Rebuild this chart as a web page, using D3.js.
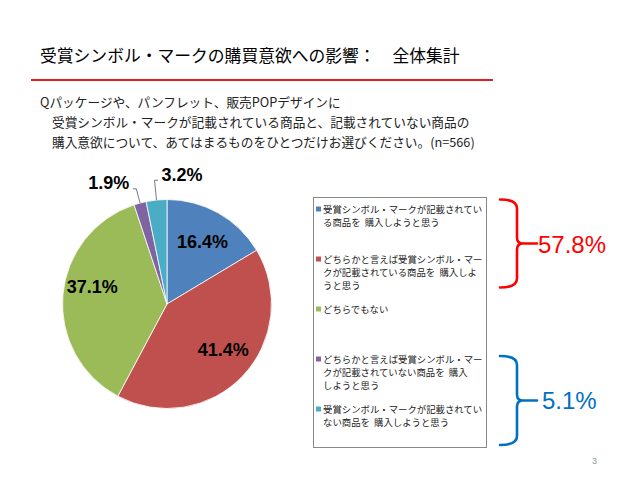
<!DOCTYPE html>
<html><head><meta charset="utf-8">
<script src="https://cdn.jsdelivr.net/npm/d3@7"></script>
<style>
html,body{margin:0;padding:0;background:#fff;}
svg{display:block;}
</style></head>
<body>
<svg id="c" width="640" height="480"></svg>
<script>
// ---- data ----
const title = "受賞シンボル・マークの購買意欲への影響：　全体集計";
const questionLines = [
  "Qパッケージや、パンフレット、販売POPデザインに",
  "受賞シンボル・マークが記載されている商品と、記載されていない商品の",
  "購入意欲について、あてはまるものをひとつだけお選びください。(n=566)"
];
const categories = [
  "受賞シンボル・マークが記載されてい\nる商品を\u00a0\u00a0購入しようと思う",
  "どちらかと言えば受賞シンボル・マー\nクが記載されている商品を\u00a0\u00a0購入しよ\nうと思う",
  "どちらでもない",
  "どちらかと言えば受賞シンボル・マー\nクが記載されていない商品を\u00a0\u00a0購入\nしようと思う",
  "受賞シンボル・マークが記載されてい\nない商品を\u00a0\u00a0購入しようと思う"
];
const values = [16.4, 41.4, 37.1, 1.9, 3.2];
const groupLabels = ["57.8%", "5.1%"];
const pageNumber = "3";

// ---- style ----
const colors = ["#4F81BD", "#C0504D", "#9BBB59", "#8064A2", "#4BACC6"];
const jp = "'Noto Sans CJK JP','Noto Sans',sans-serif";
const lat = "'Liberation Sans',Arial,sans-serif";
const innerNudge = [[0,0],[4,-4],[-3,-11],[0,0],[0,0]];
const elbowK = [0,0,0,1.14,1.19];

const svg = d3.select("#c");

// title
svg.append("text").attr("x", 40).attr("y", 62)
  .attr("font-family", jp).attr("font-size", 16.8).attr("fill", "#000").text(title);
svg.append("line").attr("x1", 31).attr("x2", 493).attr("y1", 80).attr("y2", 80)
  .attr("stroke", "#E41E1E").attr("stroke-width", 2);

// question
questionLines.forEach((t, i) => {
  svg.append("text").attr("x", i === 0 ? 40 : 52).attr("y", 107 + i * 20)
    .attr("font-family", jp).attr("font-size", 12.7).attr("fill", "#222").text(t);
});

// pie
const cx = 167, cy = 304, r = 104.5;
const g = svg.append("g").attr("transform", `translate(${cx},${cy})`);
const pie = d3.pie().sort(null).value(d => d);
const arcs = pie(values);
const arc = d3.arc().innerRadius(0).outerRadius(r);
g.selectAll("path.slice").data(arcs).join("path").attr("class", "slice")
  .attr("d", arc).attr("fill", (d, i) => colors[i])
  .attr("stroke", "#fff").attr("stroke-width", 0.8);

const polar = (a, rad) => [rad * Math.sin(a), -rad * Math.cos(a)];
arcs.forEach((d, i) => {
  const mid = (d.startAngle + d.endAngle) / 2;
  const label = d.data.toFixed(1) + "%";
  if (d.data >= 5) {
    const p = polar(mid, r * 0.69);
    g.append("text").attr("x", p[0] + innerNudge[i][0]).attr("y", p[1] + innerNudge[i][1])
      .attr("dy", "0.36em").attr("text-anchor", "middle")
      .attr("font-family", lat).attr("font-weight", "bold").attr("font-size", 18)
      .attr("fill", "#000").text(label);
  } else {
    const p0 = polar(mid, r);
    const pe = polar(mid, r * elbowK[i]);
    const dir = p0[0] < -20 ? -1 : 1;
    const p1 = [pe[0] + dir * 3.5, pe[1]];
    g.append("path").attr("d", d3.line()([p0, pe, p1]))
      .attr("fill", "none").attr("stroke", "#555").attr("stroke-width", 0.8);
    g.append("text").attr("x", p1[0] + dir * 3.5).attr("y", pe[1] + (dir < 0 ? 0 : 1))
      .attr("text-anchor", dir < 0 ? "end" : "start")
      .attr("font-family", lat).attr("font-weight", "bold").attr("font-size", 18)
      .attr("fill", "#000").text(label);
  }
});

// legend
svg.append("rect").attr("x", 313.5).attr("y", 197.5).attr("width", 173).attr("height", 250)
  .attr("fill", "#fff").attr("stroke", "#888").attr("stroke-width", 1);
categories.forEach((c, i) => {
  const y0 = 213 + i * 50;
  svg.append("rect").attr("x", 316).attr("y", y0 - 6.5).attr("width", 5).attr("height", 5)
    .attr("fill", colors[i]);
  c.split("\n").forEach((ln, j) => {
    svg.append("text").attr("x", 323).attr("y", y0 + j * 13)
      .attr("font-family", jp).attr("font-size", 9.4).attr("fill", "#222").text(ln);
  });
});

// brackets
function brace(top, bot, color) {
  const mid = (top + bot) / 2, xl = 500, xv = 517, xo = 537;
  const p = d3.path();
  p.moveTo(xl, top); p.quadraticCurveTo(xv, top, xv, top + 9);
  p.lineTo(xv, mid - 6); p.quadraticCurveTo(xv, mid, xv + 6, mid);
  p.lineTo(xo, mid);
  p.moveTo(xv + 6, mid); p.quadraticCurveTo(xv, mid, xv, mid + 6);
  p.lineTo(xv, bot - 9); p.quadraticCurveTo(xv, bot, xl, bot);
  svg.append("path").attr("d", p.toString()).attr("fill", "none")
    .attr("stroke", color).attr("stroke-width", 2.6).attr("stroke-linecap", "round");
}
brace(199.5, 287.5, "#FF0000");
brace(356, 445, "#0070C0");
svg.append("text").attr("x", 538).attr("y", 253).attr("font-family", lat).attr("font-size", 24)
  .attr("fill", "#FF0000").text(groupLabels[0]);
svg.append("text").attr("x", 542).attr("y", 409).attr("font-family", lat).attr("font-size", 24)
  .attr("fill", "#0070C0").text(groupLabels[1]);

// page number
svg.append("text").attr("x", 592).attr("y", 464).attr("font-family", lat).attr("font-size", 9)
  .attr("fill", "#8c9aa8").text(pageNumber);
</script>
</body></html>
